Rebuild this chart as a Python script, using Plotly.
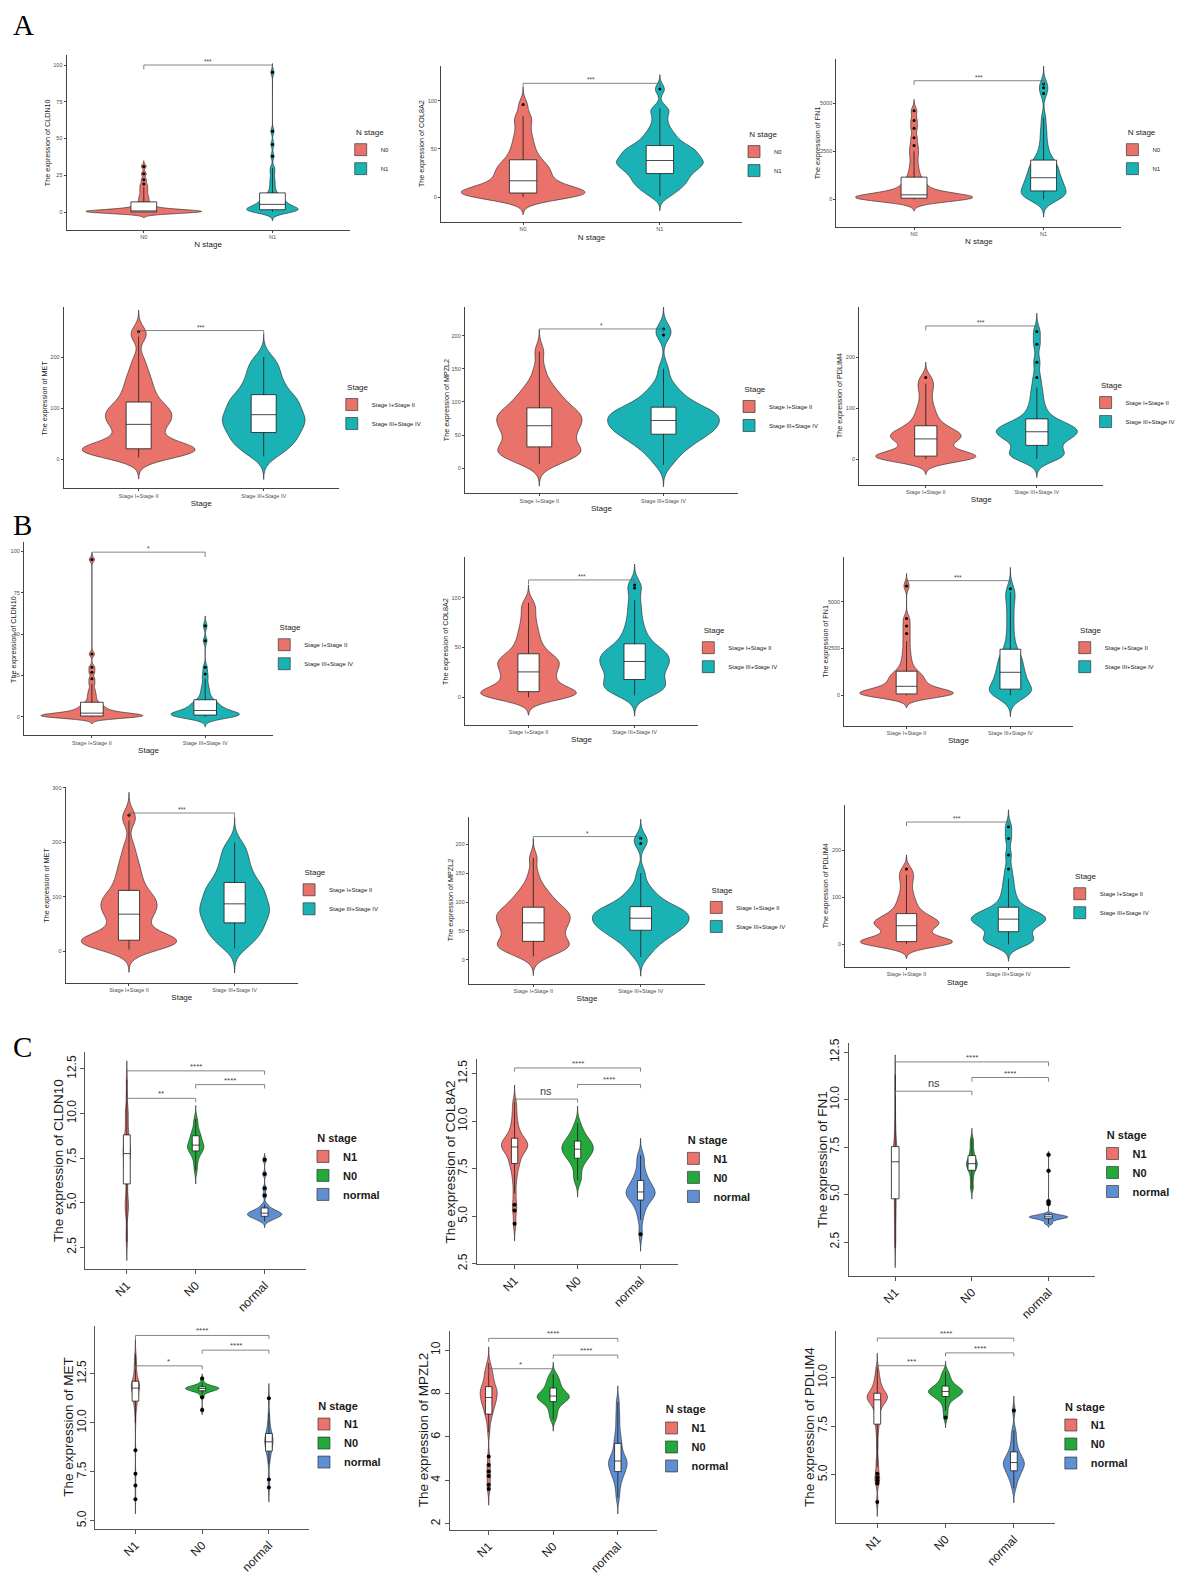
import numpy as np
import plotly.graph_objects as go

# Page is 1188x1591; the browser keeps its default 8px body margin, so the figure
# is sized to fit inside it and every target pixel position is offset by OFF.
PAGE_W, PAGE_H = 1188, 1591
OFF = 8
FW, FH = PAGE_W - 2 * OFF, PAGE_H - 2 * OFF

# ---------------- categories / labels ----------------
NSTAGE_AB = ["N0", "N1"]
STAGE_AB = ["Stage I+Stage II", "Stage III+Stage IV"]
NSTAGE_C = ["N1", "N0", "normal"]
GENES = ["CLDN10", "COL8A2", "FN1", "MET", "MPZL2", "PDLIM4"]

# ---------------- panel A (N stage) sample values ----------------
A_CLDN10_N0 = [0, 0, 0, 0, 0, 0, 0, 0, 0, 0.05, 0.1, 0.15, 0.2, 0.25, 0.3, 0.35, 0.4, 0.45, 0.5, 0.55,
               0.7, 0.9, 1.1, 1.4, 1.8, 2.3, 2.9, 3.6, 4.4, 5.3, 6.5, 8, 9.5, 11, 13, 15, 17, 19, 22, 26, 31]
A_CLDN10_N1 = [0, 0.1, 0.3, 0.5, 0.7, 0.8, 1.0, 1.1, 1.3, 1.4, 1.6, 1.9, 2.2, 2.5, 2.9, 3.2, 3.6, 4.0, 4.4, 4.8,
               5.2, 5.8, 6.4, 7.0, 7.6, 8.3, 9.0, 9.7, 10.3, 10.9, 12.5, 14.5, 17, 20, 23, 27, 30, 38, 46, 55, 95]
A_COL8A2_N0 = [0, 0.5, 1, 1.5, 2, 2.5, 3, 3.3, 3.6, 3.9, 4.5, 5.2, 6, 7, 8, 9, 10.5, 12, 13.5, 15,
               17, 19, 21, 23, 25, 27, 29, 31, 33, 35, 38, 41, 45, 49, 54, 59, 65, 72, 80, 84, 96]
A_COL8A2_N1 = [1, 5, 8, 11, 13, 15, 17, 19, 21, 23, 25, 26.5, 28, 29.5, 31, 32.5, 34, 35, 36, 37,
               38, 39.5, 41, 42.5, 44, 45.5, 47, 48.5, 50, 51, 53, 55, 58, 61, 64, 68, 73, 80, 88, 92, 112]
A_FN1_N0 = [0, 0, 5, 10, 15, 20, 25, 30, 38, 45, 60, 70, 85, 100, 115, 130, 145, 160, 175, 190,
            230, 270, 320, 380, 450, 530, 620, 720, 830, 940, 1100, 1300, 1550, 1850, 2200, 2500, 2800,
            3200, 3700, 4100, 4600]
A_FN1_N1 = [0, 30, 70, 110, 150, 190, 240, 290, 340, 390, 450, 510, 580, 650, 720, 790, 860, 930, 990, 1040,
            1120, 1200, 1290, 1380, 1470, 1560, 1650, 1740, 1820, 1900, 2000, 2150, 2350, 2600, 2900, 3300,
            3700, 4250, 5500, 5800, 6000]

# ---------------- Stage groups (shared by A4-A6 and B4-B6) ----------------
S_MET_I = [3, 7, 10, 12, 13.5, 15, 16, 17, 18, 19, 20.5, 22, 24, 27, 31, 37, 44, 51, 57, 63,
           68, 72, 76, 80, 84, 88, 92, 96, 100, 104, 110, 117, 125, 133, 142, 152, 163, 176, 195, 240, 250]
S_MET_III = [5, 12, 18, 24, 29, 33, 37, 41, 45, 49, 53, 57, 61, 65, 68, 71, 74, 77, 80, 83,
             87, 90, 94, 98, 102, 106, 110, 114, 117, 120, 125, 130, 136, 142, 149, 156, 164, 172, 181, 190, 200]
S_MPZL2_I = [6, 10, 14, 17, 20, 22, 24, 26, 28, 29.5, 33, 36, 40, 43, 47, 50, 53, 56, 59, 61.5,
             64, 67, 70, 72, 75, 77, 80, 82, 84, 86.5, 90, 94, 98, 102, 106, 111, 117, 124, 133, 150, 176]
S_MPZL2_III = [5, 15, 22, 28, 33, 37, 40, 43, 46, 49, 52, 54, 56, 58, 60, 62, 64, 66, 68, 69.5,
               72, 74, 76, 78, 80, 82, 84, 85.5, 87, 88, 91, 95, 99, 103, 108, 113, 120, 130, 150, 201, 210]
S_PDLIM4_I = [0, 0.5, 1, 1.5, 2, 2.5, 3, 3.5, 4, 4.8, 6, 8, 10, 13, 17, 21, 25, 29, 33, 37,
              39.5, 41, 43, 45, 47, 49, 51, 54, 57, 60, 64, 69, 75, 82, 90, 99, 110, 124, 138, 148, 160]
S_PDLIM4_III = [0, 1.5, 3, 5, 7, 9, 11, 14, 18, 23, 28, 32, 36, 39, 42, 44, 46, 48, 50, 51.5,
                53.5, 55, 57, 59, 61, 63, 65, 67, 69.5, 72, 77, 84, 92, 101, 112, 126, 140, 160, 190, 225, 250]

# ---------------- panel B (Stage) sample values ----------------
B_CLDN10_I = [0, 0, 0, 0.05, 0.1, 0.15, 0.2, 0.3, 0.4, 0.45, 0.6, 0.7, 0.8, 0.9, 1.0, 1.2, 1.4, 1.6, 1.8, 1.95,
              2.3, 2.7, 3.1, 3.6, 4.1, 4.7, 5.3, 6.0, 6.7, 7.4, 8.5, 10, 12, 14, 16.5, 20, 23, 27, 30, 38, 95]
B_CLDN10_III = [0, 0.1, 0.2, 0.3, 0.4, 0.5, 0.6, 0.7, 0.8, 0.95, 1.2, 1.4, 1.6, 1.9, 2.1, 2.4, 2.7, 3.0, 3.2, 3.45,
                3.9, 4.4, 5.0, 5.6, 6.2, 6.8, 7.4, 8.0, 8.5, 9.0, 10, 11.5, 13, 15, 17, 19.5, 23, 26, 30, 46, 55]
B_COL8A2_I = [0, 0.5, 1, 1.5, 2, 2.5, 3, 3.5, 4, 4.7, 6, 7.5, 9, 11, 13, 15, 17, 19, 21, 23.5,
              25.5, 27, 29, 31, 33, 34.5, 36, 37.5, 39, 40.5, 43, 46, 49, 53, 57, 62, 67, 73, 80, 88, 95]
B_COL8A2_III = [2, 4, 5.5, 7, 8.5, 10, 11.5, 13, 14.5, 16, 18.5, 20.5, 22.5, 24.5, 26.5, 28.5, 30, 31.5, 33, 34.5,
                36, 37.5, 39, 40.5, 42, 43.5, 45, 46.5, 48, 50, 53, 56, 60, 64, 69, 75, 82, 90, 98, 110, 113]
B_FN1_I = [0, 5, 10, 15, 20, 28, 35, 42, 50, 58, 80, 100, 125, 150, 180, 215, 255, 300, 350, 410,
           480, 540, 610, 680, 760, 840, 920, 1000, 1080, 1150, 1250, 1400, 1600, 1850, 2150, 2500, 2900,
           3300, 3700, 4100, 5850]
B_FN1_III = [0, 20, 45, 70, 100, 130, 160, 195, 230, 270, 350, 440, 530, 620, 710, 800, 890, 980, 1060, 1110,
             1230, 1340, 1450, 1560, 1670, 1780, 1890, 2000, 2110, 2220, 2400, 2650, 2950, 3300, 3700, 4100,
             4500, 4900, 5250, 5500, 5700]

# ---------------- panel C (log2 expression) sample values ----------------
C_CLDN10_N1 = [2.8, 3.4, 4.3, 4.6, 4.8, 5.0, 5.3, 5.8, 6.3, 6.7, 7.0, 7.2, 7.4, 7.5, 7.6, 7.7,
               7.8, 7.9, 8.0, 8.1, 8.3, 8.4, 8.55, 8.7, 8.9, 9.2, 9.5, 9.8, 10.1, 10.3, 11.0, 11.9]
C_CLDN10_N0 = [6.8, 7.2, 7.5, 7.7, 7.85, 7.95, 8.0, 8.05, 8.1, 8.2, 8.25, 8.35, 8.45, 8.55, 8.7, 8.8, 8.9,
               9.1, 9.4, 9.7]
C_CLDN10_NORMAL = [3.95, 4.05, 4.1, 4.15, 4.2, 4.22, 4.25, 4.3, 4.32, 4.35, 4.38, 4.4, 4.42, 4.45, 4.5, 4.55,
                   4.6, 4.65, 4.75, 4.9, 5.4, 5.8, 6.6, 7.4]
C_COL8A2_N1 = [4.6, 5.3, 5.6, 6.2, 6.8, 7.2, 7.5, 7.7, 7.85, 8.0, 8.15, 8.3, 8.4, 8.5, 8.55, 8.62,
               8.66, 8.7, 8.75, 8.8, 8.87, 8.93, 9.0, 9.05, 9.15, 9.3, 9.45, 9.65, 9.9, 10.2, 10.6, 11.0]
C_COL8A2_N0 = [6.9, 7.0, 7.4, 7.7, 7.9, 8.0, 8.1, 8.2, 8.3, 8.4, 8.45, 8.5, 8.55, 8.6, 8.7, 8.8, 8.85, 8.9,
               9.0, 9.1, 9.25, 9.4, 9.6, 9.9]
C_COL8A2_NORMAL = [4.05, 4.8, 5.2, 5.45, 5.65, 5.8, 5.9, 6.0, 6.1, 6.15, 6.2, 6.25, 6.3, 6.4, 6.5, 6.6, 6.7,
                   6.8, 6.95, 7.1, 7.35, 7.6, 8.0, 8.2]
C_FN1_N1 = [2.2, 2.7, 3.0, 3.5, 3.8, 4.1, 4.4, 4.65, 4.9, 5.2, 5.5, 5.8, 6.1, 6.3, 6.5, 6.65,
            6.8, 6.9, 7.0, 7.1, 7.2, 7.3, 7.38, 7.45, 7.6, 7.8, 8.1, 8.4, 8.9, 9.6, 10.5, 11.3]
C_FN1_N0 = [5.3, 5.4, 5.7, 5.9, 6.1, 6.25, 6.3, 6.4, 6.45, 6.5, 6.55, 6.6, 6.65, 6.7, 6.75, 6.8, 6.9, 7.0,
            7.1, 7.25, 7.4, 7.6, 7.8, 7.95]
C_FN1_NORMAL = [3.45, 3.5, 3.6, 3.65, 3.7, 3.72, 3.74, 3.76, 3.78, 3.8, 3.81, 3.82, 3.83, 3.84, 3.86, 3.88,
                3.9, 3.92, 3.95, 4.0, 4.5, 4.65, 6.25, 7.1]
C_MET_N1 = [6.1, 6.8, 7.4, 8.6, 10.0, 10.5, 10.75, 10.9, 11.0, 11.05, 11.15, 11.25, 11.35, 11.45, 11.5, 11.55,
            11.6, 11.65, 11.7, 11.75, 11.78, 11.82, 11.86, 11.9, 11.93, 11.96, 12.0, 12.03, 12.06, 12.08,
            12.15, 12.25, 12.35, 12.5, 12.65, 12.8, 12.95, 13.1, 13.3, 13.5]
C_MET_N0 = [10.65, 11.3, 11.45, 11.55, 11.6, 11.62, 11.64, 11.66, 11.68, 11.7, 11.72, 11.74, 11.75, 11.76,
            11.78, 11.8, 11.81, 11.82, 11.84, 11.86, 11.9, 11.95, 12.05, 12.25]
C_MET_NORMAL = [6.7, 7.1, 7.9, 8.2, 8.4, 8.5, 8.6, 8.7, 8.8, 8.9, 8.95, 9.0, 9.05, 9.1, 9.2, 9.3, 9.35, 9.4,
                9.5, 9.65, 9.85, 10.1, 10.5, 11.25]
C_MPZL2_N1 = [3.6, 3.8, 4.2, 4.4, 4.7, 5.1, 6.2, 6.6, 6.85, 7.0, 7.1, 7.2, 7.3, 7.4, 7.5, 7.55, 7.6, 7.65,
              7.7, 7.78, 7.85, 7.9, 7.95, 8.0, 8.05, 8.1, 8.15, 8.2, 8.25, 8.28, 8.35, 8.45, 8.55, 8.65,
              8.75, 8.85, 8.95, 9.05, 9.2, 9.4]
C_MPZL2_N0 = [6.8, 7.0, 7.2, 7.35, 7.5, 7.6, 7.65, 7.7, 7.75, 7.8, 7.83, 7.86, 7.9, 7.95, 8.0, 8.05, 8.1,
              8.2, 8.3, 8.4, 8.5, 8.6, 8.75, 8.9]
C_MPZL2_NORMAL = [3.2, 3.6, 3.9, 4.1, 4.25, 4.35, 4.45, 4.55, 4.65, 4.72, 4.8, 4.86, 4.92, 5.0, 5.1, 5.25,
                  5.4, 5.6, 5.8, 6.0, 6.3, 6.7, 7.1, 7.6]
C_PDLIM4_N1 = [3.6, 4.55, 4.7, 4.85, 5.05, 5.4, 5.8, 6.5, 7.1, 7.5, 7.7, 7.9, 8.1, 8.3, 8.45, 8.55, 8.65,
               8.72, 8.78, 8.84, 8.87, 8.9, 8.93, 8.96, 8.99, 9.02, 9.06, 9.1, 9.13, 9.16, 9.22, 9.3, 9.38,
               9.47, 9.57, 9.7, 9.85, 10.0, 10.2, 10.5]
C_PDLIM4_N0 = [7.95, 8.3, 8.6, 8.8, 8.9, 9.0, 9.05, 9.1, 9.15, 9.2, 9.24, 9.27, 9.3, 9.33, 9.37, 9.42, 9.47,
               9.52, 9.6, 9.7, 9.8, 9.95, 10.1, 10.3]
C_PDLIM4_NORMAL = [4.3, 4.6, 4.8, 4.95, 5.05, 5.15, 5.25, 5.35, 5.42, 5.5, 5.55, 5.6, 5.65, 5.72, 5.8, 5.9,
                   6.0, 6.1, 6.25, 6.45, 6.7, 7.0, 7.3, 8.3]

# ---------------- significance annotations ----------------
AB_SIG_Y = [100, 118, 6170, 252, 210, 261, 99.5, 118, 6130, 254, 213, 260]
AB_SIG_LABEL = ["***", "***", "***", "***", "*", "***", "*", "***", "***", "***", "*", "***"]
C_SIG_PAIRS = [(0, 2), (1, 2), (0, 1)]
C_SIG_Y = [[12.39, 11.62, 10.85], [12.8, 11.93, 11.16], [11.98, 11.16, 10.44],
           [14.45, 13.7, 12.9], [10.54, 9.77, 9.14], [12.03, 11.27, 10.61]]
C_SIG_LABEL = [["****", "****", "**"], ["****", "****", "ns"], ["****", "****", "ns"],
               ["****", "****", "*"], ["****", "****", "*"], ["****", "****", "***"]]

# ---------------- assemble groups ----------------
AB_SAMPLES = [
    [A_CLDN10_N0, A_CLDN10_N1], [A_COL8A2_N0, A_COL8A2_N1], [A_FN1_N0, A_FN1_N1],
    [S_MET_I, S_MET_III], [S_MPZL2_I, S_MPZL2_III], [S_PDLIM4_I, S_PDLIM4_III],
    [B_CLDN10_I, B_CLDN10_III], [B_COL8A2_I, B_COL8A2_III], [B_FN1_I, B_FN1_III],
    [S_MET_I, S_MET_III], [S_MPZL2_I, S_MPZL2_III], [S_PDLIM4_I, S_PDLIM4_III],
]
C_SAMPLES = [
    [C_CLDN10_N1, C_CLDN10_N0, C_CLDN10_NORMAL], [C_COL8A2_N1, C_COL8A2_N0, C_COL8A2_NORMAL],
    [C_FN1_N1, C_FN1_N0, C_FN1_NORMAL], [C_MET_N1, C_MET_N0, C_MET_NORMAL],
    [C_MPZL2_N1, C_MPZL2_N0, C_MPZL2_NORMAL], [C_PDLIM4_N1, C_PDLIM4_N0, C_PDLIM4_NORMAL],
]

# ---------------- layout / style (target pixels in the 1188x1591 page) ----------------
# (x_left, x_right, y_top, y_bottom, ymin, ymax, dtick, legend_key_x, legend_title_y)
AB_BOX = [
    (67, 352, 51, 229, -12, 106.7, 25, 363, 128),
    (444, 747, 62, 221, -25.5, 136, 50, 759, 130),
    (842, 1129, 55, 226, -1429, 7296, 2500, 1140, 128),
    (64, 341, 308, 493, -57.7, 298, 100, 354, 388),
    (468, 743, 308, 498, -38, 243, 50, 754, 390),
    (865, 1111, 308, 489, -50, 298, 100, 1113, 386),
    (24, 275, 548, 745, -11.2, 105.4, 25, 286, 633),
    (468, 703, 563, 734, -27.6, 141, 50, 713, 636),
    (850, 1080, 563, 735, -1625, 7390, 2500, 1092, 636),
    (66, 300, 798, 997, -57.7, 301, 100, 311, 883),
    (472, 710, 828, 998, -40.7, 247, 50, 721, 901),
    (851, 1077, 816, 981, -48, 296, 100, 1087, 887),
]
C_BOX = [
    (86, 308, 1068, 1289, 1.29, 13.44, 2.5, 325, 1156),
    (480, 683, 1075, 1284, 2.49, 13.27, 2.5, 698, 1158),
    (855, 1102, 1059, 1296, 0.73, 12.96, 2.5, 1120, 1153),
    (96, 311, 1347, 1554, 4.6, 14.95, 2.5, 326, 1429),
    (453, 661, 1352, 1555, 1.73, 10.9, 2, 676, 1433),
    (842, 1062, 1352, 1548, 2.53, 12.42, 2.5, 1078, 1430),
]
AB_BW = [(1.3, 2.0), (6, 5), (200, 310), (14, 15), (11, 11), (10, 12),
         (1.4, 2.0), (6, 7), (220, 380), (14, 15), (11, 11), (10, 12)]
C_BW = [(0.35, 0.25, 0.12), (0.3, 0.3, 0.3), (0.35, 0.18, 0.06),
        (0.25, 0.08, 0.25), (0.25, 0.18, 0.25), (0.25, 0.18, 0.25)]

AB_COLORS = ["#E9736B", "#1BB2B6"]
C_COLORS = ["#EA736E", "#24A73B", "#5F8FD2"]
SANS = "Liberation Sans, Arial, sans-serif"
NARROW = "Liberation Sans Narrow, Liberation Sans, Arial, sans-serif"
SERIF = "Liberation Serif, Times New Roman, serif"
NB = "\u00a0"


def px_x(x):
    return (x - OFF) / FW


def px_y(y):
    return 1 - (y - OFF) / FH


fig = go.Figure()
annotations = []
layout = {}


def kde_peak(s, bw):
    """Peak of the Gaussian KDE (same estimator plotly uses) - for equal-area scaling."""
    a = np.asarray(s, dtype=float)
    grid = np.linspace(a.min() - 3 * bw, a.max() + 3 * bw, 800)
    dens = np.exp(-0.5 * ((grid[:, None] - a[None, :]) / bw) ** 2).sum(axis=1)
    return dens.max() / (len(a) * bw * np.sqrt(2 * np.pi))


def names(i):
    n = "" if i == 0 else str(i + 1)
    return "xaxis" + n, "yaxis" + n, "x" + n, "y" + n, "legend" + n


def add_panel(i, cats, samples, bws, colors, box, gene, xtitle, legtitle, pairs, sig_y, sig_lab, is_c):
    xa, ya, xr, yr, lg = names(i)
    x0, x1, yt, yb, ymin, ymax, dtick, lx, ly = box
    full_w = 0.5 if is_c else 0.9
    bwidth = 0.1 if is_c else 0.2
    peaks = [kde_peak(s, bw) for s, bw in zip(samples, bws)]
    top = max(peaks)
    for k, (cat, s, bw, col) in enumerate(zip(cats, samples, bws, colors)):
        fig.add_trace(go.Violin(
            x0=k, y=s, name=cat, legend=lg, xaxis=xr, yaxis=yr, fillcolor=col,
            line=dict(color="#222222", width=0.6), width=full_w * peaks[k] / top, bandwidth=bw,
            spanmode="manual", span=[min(s) - 3 * bw, max(s) + 3 * bw],
            scalemode="width", points=False,
            showlegend=True, hoverinfo="skip", opacity=1))
    for k, (cat, s) in enumerate(zip(cats, samples)):
        fig.add_trace(go.Box(
            x0=k, y=s, name=cat, xaxis=xr, yaxis=yr, width=bwidth, fillcolor="white",
            line=dict(color="#1a1a1a", width=0.8), boxpoints="outliers",
            marker=dict(color="black", size=4 if is_c else 3), whiskerwidth=0,
            showlegend=False, hoverinfo="skip"))
    rng = ymax - ymin
    tip = (0.018 if is_c else 0.025) * rng
    for (g1, g2), yv, lab in zip(pairs, sig_y, sig_lab):
        fig.add_trace(go.Scatter(
            x=[g1, g1, g2, g2], y=[yv - tip, yv, yv, yv - tip], mode="lines",
            line=dict(color="#666666", width=0.8), xaxis=xr, yaxis=yr,
            showlegend=False, hoverinfo="skip"))
        fs = (11 if lab == "ns" else 8) if is_c else 6.5
        annotations.append(dict(
            x=(g1 + g2) / 2, y=yv, xref=xr, yref=yr, text=lab, showarrow=False,
            yanchor="bottom", yshift=0 if lab == "ns" else -2,
            font=dict(family=SANS, size=fs, color="#444444")))

    if is_c:
        tickfont = dict(family=SANS, size=12, color="#1a1a1a")
        axcol = "#555555"
    else:
        tickfont = dict(family=NARROW, size=5.5, color="#4d4d4d")
        axcol = "#444444"
    layout[xa] = dict(
        domain=[px_x(x0), px_x(x1)], range=[-0.6, len(cats) - 0.4], tickmode="array",
        tickvals=list(range(len(cats))), ticktext=cats, showline=True, linecolor=axcol,
        linewidth=1, ticks="outside", ticklen=4 if is_c else 2, tickcolor=axcol,
        tickfont=tickfont, showgrid=False, zeroline=False, anchor=yr,
        tickangle=-45 if is_c else 0, fixedrange=True,
        title=dict(text=xtitle, font=dict(family=SANS, size=8, color="#1a1a1a"), standoff=2))
    layout[ya] = dict(
        domain=[px_y(yb), px_y(yt)], range=[ymin, ymax], tick0=0, dtick=dtick,
        tickformat=(".1f" if dtick == 2.5 else "d"), showline=True, linecolor=axcol,
        linewidth=1, ticks="outside", ticklen=4 if is_c else 2, tickcolor=axcol,
        tickfont=tickfont, showgrid=False, zeroline=False, anchor=xr,
        tickangle=-90 if is_c else 0, fixedrange=True)
    # y-axis title placed like ggplot's (centred on the panel), kept inside the page
    title_x = max(x0 - (27 if is_c else 19), OFF + 6)
    annotations.append(dict(
        x=px_x(title_x), y=px_y((yt + yb) / 2), xref="paper", yref="paper",
        text="The expression of " + gene, textangle=-90, showarrow=False,
        xanchor="center", yanchor="middle",
        font=dict(family=SANS, size=13.5 if is_c else 7.2, color="#1a1a1a")))
    if is_c:
        layout[lg] = dict(
            x=px_x(lx - 20), y=px_y(ly - 11), xanchor="left", yanchor="top",
            bgcolor="rgba(0,0,0,0)", tracegroupgap=0,
            title=dict(text=NB * 4 + "<b>" + legtitle + "</b>",
                       font=dict(family=SANS, size=11, color="#1a1a1a")),
            font=dict(family=SANS, size=11, color="#1a1a1a", weight="bold"))
    else:
        layout[lg] = dict(
            x=px_x(lx - 20), y=px_y(ly - 6), xanchor="left", yanchor="top",
            bgcolor="rgba(0,0,0,0)", tracegroupgap=0,
            title=dict(text=NB * 6 + legtitle, font=dict(family=SANS, size=8, color="#1a1a1a")),
            font=dict(family=NARROW, size=6, color="#1a1a1a"))


for i in range(12):
    nstage = i < 3
    add_panel(i, NSTAGE_AB if nstage else STAGE_AB, AB_SAMPLES[i], AB_BW[i], AB_COLORS, AB_BOX[i],
              GENES[i % 6], "N stage" if nstage else "Stage", "N stage" if nstage else "Stage",
              [(0, 1)], [AB_SIG_Y[i]], [AB_SIG_LABEL[i]], False)
for j in range(6):
    add_panel(12 + j, NSTAGE_C, C_SAMPLES[j], C_BW[j], C_COLORS, C_BOX[j], GENES[j], "", "N stage",
              C_SIG_PAIRS, C_SIG_Y[j], C_SIG_LABEL[j], True)

for letter, lx, ly in [("A", 11, 20), ("B", 11, 530), ("C", 11, 1063)]:
    annotations.append(dict(x=px_x(lx), y=px_y(ly), xref="paper", yref="paper", text=letter,
                            showarrow=False, xanchor="left", yanchor="middle",
                            font=dict(family=SERIF, size=29, color="black")))

fig.update_layout(
    width=FW, height=FH, autosize=False, margin=dict(l=0, r=0, t=0, b=0), paper_bgcolor="white",
    plot_bgcolor="white", showlegend=True, violinmode="overlay", boxmode="overlay",
    annotations=annotations, **layout)

fig.write_html("out.html", config={"displayModeBar": False, "responsive": False})
